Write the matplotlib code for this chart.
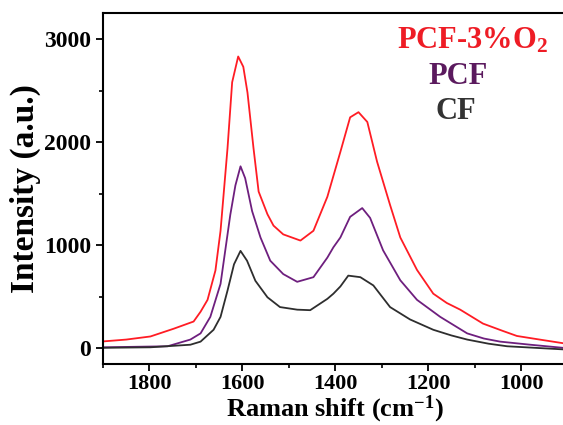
import numpy as np
import matplotlib.pyplot as plt

# Raman spectra (wavenumber, intensity)
pcf_o2_x = [1900, 1850, 1798, 1748, 1705, 1690, 1675, 1658, 1647, 1632, 1622, 1609, 1598, 1589,
            1576, 1565, 1546, 1533, 1512, 1475, 1447, 1417, 1389, 1368, 1350, 1331, 1310, 1282,
            1260, 1224, 1189, 1160, 1131, 1082, 1040, 1009, 960, 910]
pcf_o2_y = [67, 85, 115, 190, 260, 355, 470, 755, 1140, 1940, 2580, 2830, 2730, 2480,
            1940, 1520, 1300, 1190, 1105, 1045, 1140, 1470, 1905, 2240, 2290, 2195, 1810, 1390,
            1075, 760, 530, 440, 375, 240, 170, 120, 85, 50]

pcf_x = [1900, 1830, 1761, 1712, 1690, 1669, 1647, 1626, 1615, 1604, 1594, 1579, 1561, 1540,
         1512, 1482, 1447, 1417, 1404, 1389, 1368, 1342, 1325, 1297, 1260, 1224, 1174, 1116,
         1080, 1045, 980, 910]
pcf_y = [10, 15, 20, 85, 145, 305, 625, 1295, 1580, 1765, 1650, 1330, 1075, 850,
         720, 645, 690, 880, 980, 1075, 1275, 1360, 1265, 950, 660, 470, 305, 145,
         95, 65, 35, 5]

cf_x = [1900, 1798, 1712, 1690, 1662, 1647, 1632, 1618, 1604, 1590, 1572, 1546, 1519, 1482,
        1454, 1417, 1404, 1389, 1372, 1346, 1318, 1282, 1239, 1189, 1150, 1116, 1070, 1030, 910]
cf_y = [5, 10, 35, 65, 180, 305, 560, 815, 945, 850, 655, 495, 400, 375,
        370, 480, 530, 600, 705, 690, 610, 400, 280, 180, 125, 85, 45, 20, -10]

xticks = [1800, 1600, 1400, 1200, 1000]
yticks = [0, 1000, 2000, 3000]

plt.rcParams['font.family'] = 'Liberation Serif'
plt.rcParams['font.weight'] = 'bold'
plt.rcParams['mathtext.fontset'] = 'custom'
plt.rcParams['mathtext.rm'] = 'Liberation Serif:bold'
plt.rcParams['mathtext.bf'] = 'Liberation Serif:bold'
plt.rcParams['mathtext.default'] = 'bf'

fig = plt.figure(figsize=(5.63, 4.25), dpi=100)
ax = fig.add_axes([0.183, 0.144, 0.825, 0.825])

ax.plot(pcf_o2_x, pcf_o2_y, color='#ff1c24', lw=1.3)
ax.plot(pcf_x, pcf_y, color='#6e1f7e', lw=1.3)
ax.plot(cf_x, cf_y, color='#2e2e2e', lw=1.3)

ax.set_xlim(1900, 900)
ax.set_ylim(-150, 3250)
ax.set_xticks(xticks)
ax.set_yticks(yticks)
ax.set_xticks(np.arange(1900, 899, -100), minor=True)
ax.set_yticks([500, 1500, 2500], minor=True)
ax.tick_params(which='major', direction='out', length=5, width=1.3, labelsize=17)
ax.tick_params(axis='x', which='major', pad=2, labelsize=16)
ax.tick_params(which='minor', direction='out', length=3, width=1.2)
for s in ax.spines.values():
    s.set_linewidth(1.5)

ax.set_xlabel('Raman shift (cm$^{-1}$)', fontsize=19, fontweight='bold', labelpad=0)
ax.set_ylabel('Intensity (a.u.)', fontsize=24, fontweight='bold', labelpad=2)

ax.text(0.795, 0.92, 'PCF-3%O$_2$', transform=ax.transAxes, color='#ee1c25',
        fontsize=22, fontweight='bold', ha='center', va='center')
ax.text(0.765, 0.82, 'PCF', transform=ax.transAxes, color='#5b1a5e',
        fontsize=22, fontweight='bold', ha='center', va='center')
ax.text(0.76, 0.72, 'CF', transform=ax.transAxes, color='#333333',
        fontsize=22, fontweight='bold', ha='center', va='center')

fig.savefig('out.png', dpi=100)
